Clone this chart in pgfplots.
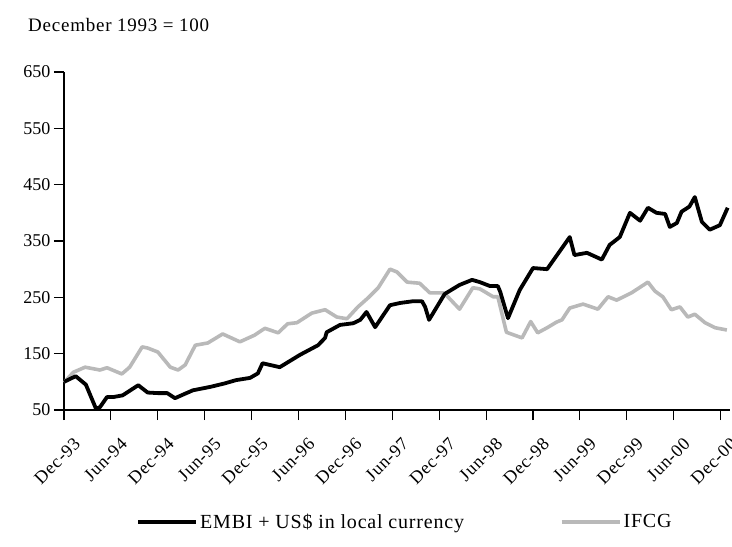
\documentclass[border=0pt]{standalone}
\usepackage{pgfplots}
\pgfplotsset{compat=1.18}
\usepackage{fontspec}
\setmainfont{Liberation Serif}
\newfontfamily\spaced[LetterSpace=4]{Liberation Serif}
\definecolor{ifcg}{RGB}{185,185,185}
\begin{document}
\begin{tikzpicture}
\begin{axis}[
  at={(0,0)}, anchor=south west,
  scale only axis, width=666bp, height=338bp,
  xmin=0, xmax=85.2, ymin=50, ymax=650,
  axis lines=left,
  axis line style={-, line width=1.8bp},
  xtick={0,6,...,84},
  xticklabels={Dec-93,Jun-94,Dec-94,Jun-95,Dec-95,Jun-96,Dec-96,Jun-97,Dec-97,Jun-98,Dec-98,Jun-99,Dec-99,Jun-00,Dec-00},
  ytick={50,150,...,650},
  tick align=outside,
  major tick length=10bp,
  tick style={black, line width=1.1bp},
  x tick label style={xshift=14bp, yshift=-20bp, rotate=45, anchor=east, font=\spaced\fontsize{18bp}{21bp}\selectfont, inner sep=1bp},
  y tick label style={font=\fontsize{18bp}{21bp}\selectfont},
  /pgf/number format/assume math mode=true,
  legend columns=-1,
  legend style={draw=none, at={(0.512,-0.331)}, anchor=center,
    font=\spaced\fontsize{20bp}{23bp}\selectfont,
    /tikz/every even column/.append style={column sep=94bp}},
  legend image code/.code={\draw[#1] (0bp,0bp) -- (58bp,0bp);},
  clip=false,
]
\addplot[ifcg, line width=3.6bp, line join=round, forget plot] coordinates {
(0,99) (1.2,117) (2.7,126) (4.6,121) (5.5,125) (7.4,114) (8.4,126) (10,162) (10.7,160) (12,153) (13.6,126) (14.6,121) (15.5,130) (16.8,165) (18.4,169) (20.3,185) (22.5,171) (24.4,183) (25.7,195) (27.4,187) (28.6,203) (29.8,205) (31.7,222) (33.4,228) (34.9,215) (36.2,212) (37.6,233) (38.9,249) (40.2,267) (41.7,300) (42.6,295) (43.9,277) (45.5,275) (46.8,258) (48.5,258) (49.1,251) (50.6,229) (52.3,267) (53.2,265) (54.9,251) (55.5,251) (56.6,188) (58.6,178) (59.7,207) (60.6,187) (61.8,196) (63,206) (63.7,210) (64.7,231) (66.4,238) (68.3,229) (69.6,251) (70.7,245) (72.6,258) (74.7,277) (75.6,261) (76.6,251) (77.7,228) (78.8,233) (79.8,215) (80.7,220) (82,205) (83.3,196) (84.8,192)
};
\addplot[black, line width=3.8bp, line join=round] coordinates {
(0,100) (1.5,110) (2.8,95) (4.1,52) (4.6,55) (5.5,73) (6.3,73) (7.5,76) (8.5,85) (9.5,94) (10.7,81) (12,80) (13.2,80) (14.2,71) (15.5,79) (16.5,85) (18.7,91) (20.5,97) (22,103) (23.8,107) (24.8,115) (25.4,133) (27.6,126) (30.2,148) (32.5,165) (33.4,178) (33.6,188) (35.3,201) (37,204) (37.9,210) (38.7,224) (39.8,197) (41.7,236) (43,240) (44.6,243) (45.8,243) (46.2,233) (46.7,210) (47.7,233) (48.7,256) (50.6,272) (52.2,281) (53.2,277) (54.5,270) (55.5,270) (55.8,260) (56.8,213) (58.3,263) (60,302) (61.8,300) (64.7,357) (65.3,325) (66.9,329) (68.8,317) (69.8,343) (71.1,357) (72.4,400) (73.7,386) (74.7,409) (75.8,400) (76.9,398) (77.5,375) (78.4,382) (79,402) (80,411) (80.7,428) (81.6,384) (82.6,370) (83.9,378) (84.9,409)
};
\addlegendentry{EMBI + US\$ in local currency}
\addlegendimage{ifcg, line width=3.6bp}
\addlegendentry{IFCG}
\end{axis}
\node[anchor=base west,font=\spaced\fontsize{19bp}{22bp}\selectfont,inner sep=0pt] at (-36bp,378bp) {December 1993 = 100};
\pgfresetboundingbox
\path[use as bounding box] (-64bp,-137bp) rectangle (668bp,410bp);
\end{tikzpicture}
\end{document}
